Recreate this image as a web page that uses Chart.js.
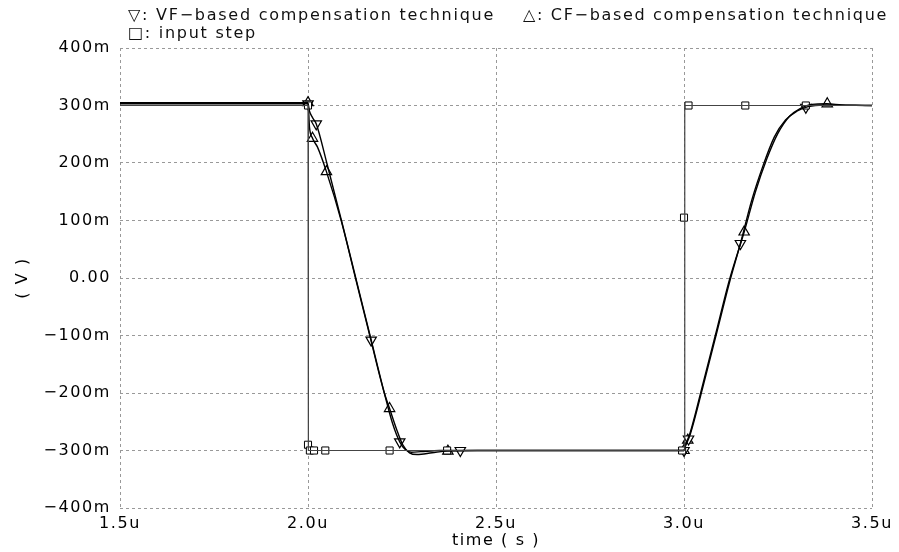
<!DOCTYPE html>
<html>
<head>
<meta charset="utf-8">
<script src="https://cdn.jsdelivr.net/npm/chart.js@4"></script>
<style>
  body { margin: 0; background: #fff; }
  #wrap { position: relative; width: 899px; height: 552px; }
  .leg { position: absolute; font-family: "DejaVu Sans", sans-serif; font-size: 16px; color: #111; white-space: pre; line-height: 18px; }
</style>
</head>
<body>
<div id="wrap">
  <canvas id="myChart" width="899" height="552"></canvas>
  <div class="leg" id="leg1" style="left:128px; top:6px;">▽: VF−based compensation technique</div>
  <div class="leg" id="leg2" style="left:523px; top:6px;">△: CF−based compensation technique</div>
  <div class="leg" id="leg3" style="left:128px; top:24px;">□: input step</div>
</div>
<script>
// time in us, voltage in V
const stepT = [1.5, 2.0, 2.001, 3.0, 3.002, 3.5]
const stepV = [0.3, 0.3, -0.3, -0.3, 0.3, 0.3]

const vfT = [1.5, 2.0, 2.004, 2.012, 2.022, 2.05, 2.089, 2.127, 2.165, 2.203, 2.225, 2.244, 2.258, 2.275, 2.3, 2.35,
  3.0, 3.004, 3.015, 3.05, 3.089, 3.12, 3.15, 3.18, 3.21, 3.24, 3.27, 3.30, 3.33, 3.37, 3.5]
const vfV = [0.303, 0.303, 0.29, 0.279, 0.268, 0.2, 0.1, 0.0, -0.1, -0.2, -0.253, -0.285, -0.298, -0.303, -0.302, -0.3,
  -0.3, -0.292, -0.275, -0.19, -0.09, -0.01, 0.06, 0.135, 0.195, 0.245, 0.275, 0.29, 0.298, 0.301, 0.3]

const cfT = [1.5, 2.0, 2.004, 2.012, 2.025, 2.049, 2.089, 2.127, 2.165, 2.203, 2.217, 2.235, 2.252, 2.27, 2.29, 2.33, 2.37, 2.45,
  3.0, 3.004, 3.015, 3.05, 3.089, 3.12, 3.16, 3.19, 3.22, 3.25, 3.28, 3.31, 3.34, 3.38, 3.42, 3.5]
const cfV = [0.305, 0.305, 0.262, 0.243, 0.228, 0.185, 0.098, -0.002, -0.102, -0.2, -0.227, -0.262, -0.29, -0.304, -0.307, -0.304, -0.301, -0.3,
  -0.3, -0.29, -0.272, -0.185, -0.085, -0.005, 0.08, 0.15, 0.207, 0.252, 0.281, 0.295, 0.302, 0.303, 0.301, 0.3]

// marker positions
const stepMarkT = [2.0, 2.0, 2.005, 2.016, 2.046, 2.217, 2.37, 2.995, 3.0, 3.012, 3.163, 3.324]
const stepMarkV = [0.3, -0.29, -0.3, -0.3, -0.3, -0.3, -0.3, -0.3, 0.105, 0.3, 0.3, 0.3]
const vfMarkT = [2.0, 2.022, 2.168, 2.244, 2.405, 3.0, 3.012, 3.15, 3.324]
const vfMarkV = [0.303, 0.268, -0.108, -0.285, -0.3, -0.3, -0.28, 0.06, 0.297]
const cfMarkT = [2.0, 2.012, 2.049, 2.217, 2.372, 3.0, 3.01, 3.16, 3.381]
const cfMarkV = [0.305, 0.243, 0.185, -0.227, -0.301, -0.3, -0.282, 0.08, 0.303]

const xTicks = [1.5, 2.0, 2.5, 3.0, 3.5]
const yTicks = [-0.4, -0.3, -0.2, -0.1, 0, 0.1, 0.2, 0.3, 0.4]

function pts(t, v) { return t.map((x, i) => ({x: x, y: v[i]})) }

function yLabel(v) {
  if (Math.abs(v) < 1e-9) return '0.00'
  let m = Math.round(v * 1000)
  return (m < 0 ? '−' : '') + Math.abs(m) + 'm'
}

// stretch legend text to the widths seen in the plot
function stretch(id, w) {
  let el = document.getElementById(id)
  let n = el.textContent.length
  let w0 = el.getBoundingClientRect().width
  el.style.letterSpacing = ((w - w0) / n) + 'px'
}
stretch('leg1', 367)
stretch('leg2', 365)
stretch('leg3', 129)

const spacing = {
  id: 'spacing',
  beforeUpdate(chart) { chart.ctx.letterSpacing = '1.6px' },
  beforeDraw(chart) { chart.ctx.letterSpacing = '1.6px' }
}

const font = {family: '"DejaVu Sans", sans-serif', size: 16}
const dash = [3, 3]

const data = {
  datasets: [
    { label: 'input step', data: pts(stepT, stepV), borderColor: '#444', borderWidth: 1.2, pointRadius: 0, tension: 0 },
    { label: 'VF', data: pts(vfT, vfV), borderColor: '#000', borderWidth: 1.4, pointRadius: 0, cubicInterpolationMode: 'monotone' },
    { label: 'CF', data: pts(cfT, cfV), borderColor: '#000', borderWidth: 1.4, pointRadius: 0, cubicInterpolationMode: 'monotone' },
    { label: 'step marks', data: pts(stepMarkT, stepMarkV), showLine: false, pointStyle: 'rect', pointRadius: 5,
      pointBackgroundColor: '#fff', pointBorderColor: '#000', pointBorderWidth: 1 },
    { label: 'VF marks', data: pts(vfMarkT, vfMarkV), showLine: false, pointStyle: 'triangle', pointRotation: 180, pointRadius: 6,
      pointBackgroundColor: '#fff', pointBorderColor: '#000', pointBorderWidth: 1.2 },
    { label: 'CF marks', data: pts(cfMarkT, cfMarkV), showLine: false, pointStyle: 'triangle', pointRadius: 6,
      pointBackgroundColor: '#fff', pointBorderColor: '#000', pointBorderWidth: 1.2 }
  ]
}

const config = {
  type: 'line',
  data: data,
  plugins: [spacing],
  options: {
    responsive: false,
    animation: false,
    events: [],
    layout: { padding: { top: 48, right: 26, left: 0, bottom: 0 } },
    plugins: { legend: { display: false }, tooltip: { enabled: false } },
    scales: {
      x: {
        type: 'linear', min: 1.5, max: 3.5,
        afterBuildTicks: s => { s.ticks = xTicks.map(v => ({value: v})) },
        afterFit: s => { s.height = 44 },
        ticks: { color: '#000', font: font, padding: 6, maxRotation: 0, callback: v => v.toFixed(1) + 'u' },
        grid: { color: '#999', lineWidth: 1, drawTicks: false },
        border: { display: false, dash: dash },
        title: { display: true, text: 'time ( s )', color: '#000', font: font, padding: { top: 0, bottom: 2 } }
      },
      y: {
        type: 'linear', min: -0.4, max: 0.4,
        afterBuildTicks: s => { s.ticks = yTicks.map(v => ({value: v})) },
        afterFit: s => { s.width = 120 },
        ticks: { color: '#000', font: font, padding: 9, callback: yLabel },
        grid: { color: '#999', lineWidth: 1, drawTicks: false },
        border: { display: false, dash: dash },
        title: { display: true, text: '( V )', color: '#000', font: font, padding: { top: 13, bottom: 0 } }
      }
    }
  }
}

const myChart = new Chart(document.getElementById('myChart'), config)
</script>
</body>
</html>
